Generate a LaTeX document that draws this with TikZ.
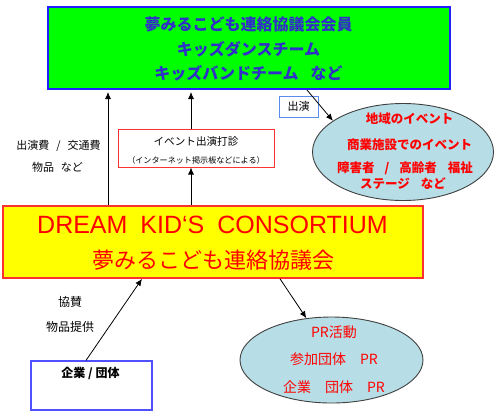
\documentclass[tikz,border=0pt]{standalone}
\usepackage{fontspec}
\setmainfont{Noto Sans CJK JP}
\newfontfamily\latinfont{Liberation Sans}
\usetikzlibrary{arrows.meta,shapes.geometric}
\definecolor{gfill}{HTML}{00FF00}
\definecolor{gborder}{HTML}{2020FF}
\definecolor{gtext}{HTML}{3030C8}
\definecolor{yfill}{HTML}{FFFF00}
\definecolor{rborder}{HTML}{FF3030}
\definecolor{rtext}{HTML}{FF0000}
\definecolor{efill}{HTML}{B7DEE6}
\definecolor{eborder}{HTML}{404040}
\definecolor{bbox}{HTML}{5A8CF0}
\definecolor{cbox}{HTML}{5050FF}
\tikzset{
  boxshape/.style={rectangle, inner sep=0pt},
  ellshape/.style={ellipse, inner sep=0pt, fill=efill, draw=eborder, line width=0.9pt},
  arr/.style={-{Latex[length=7pt,width=6pt]}, line width=0.8pt, black},
  txt/.style={inner sep=0pt, anchor=center}
}
\begin{document}
\begin{tikzpicture}[x=1pt,y=-1pt]
\useasboundingbox (0,0) rectangle (500,416);
\fill[white] (0,0) rectangle (500,416);

% boxes
\node[boxshape, fill=gfill, draw=gborder, line width=2pt, minimum width=402pt, minimum height=82pt] (members) at (248.5,48) {};
\node[boxshape, fill=yfill, draw=rborder, line width=1.6pt, minimum width=420pt, minimum height=72pt] (cons) at (213,242) {};
\node[boxshape, fill=white, draw=rborder, line width=1pt, minimum width=156pt, minimum height=38pt] (event) at (196,148) {};
\node[boxshape, fill=white, draw=bbox, line width=1pt, minimum width=39pt, minimum height=21pt] (perf) at (298.5,106.5) {};
\node[boxshape, fill=white, draw=cbox, line width=1.2pt, minimum width=121pt, minimum height=49pt] (comp) at (91.5,385.5) {};
\node[ellshape, minimum width=181pt, minimum height=97pt] (tell) at (403,152) {};
\node[ellshape, minimum width=183pt, minimum height=86pt] (bell) at (331.5,360) {};

% texts in green box
\begin{scope}[every node/.style={txt, text=gtext, font=\bfseries\fontsize{16}{16}\selectfont}]
\node (m1) at (248.5,24) {夢みるこども連絡協議会会員};
\node (m2) at (248.5,49) {キッズダンスチーム};
\node (m3) at (248.5,73) {キッズバンドチーム\hspace{12pt}など};
\end{scope}

% texts in yellow box
\node[txt, text=rtext, font=\latinfont\fontsize{25}{25}\selectfont] (c1) at (212.5,225) {DREAM\hspace{13pt}KID‘S\hspace{13pt}CONSORTIUM};
\node[txt, text=rtext, font=\fontsize{22}{22}\selectfont] (c2) at (213,260) {夢みるこども連絡協議会};

% event box texts
\node[txt, font=\fontsize{10.6}{11}\selectfont] (e1) at (196,141) {イベント出演打診};
\node[txt, font=\fontsize{8.1}{9}\selectfont] (e2) at (196,160) {（インターネット掲示板などによる）};

% perf label
\node[txt, font=\fontsize{11}{11}\selectfont] (p1) at (298.5,106.5) {出演};

% left labels
\node[txt, font=\fontsize{11}{11}\selectfont] (l1) at (58.5,146) {出演費\hspace{7pt}/\hspace{7pt}交通費};
\node[txt, font=\fontsize{11}{11}\selectfont] (l2) at (57.5,167) {物品\hspace{7pt}など};
\node[txt, font=\fontsize{12}{12}\selectfont] (s1) at (70,302) {協賛};
\node[txt, font=\fontsize{12}{12}\selectfont] (s2) at (70,327) {物品提供};

% company text
\node[txt, font=\bfseries\fontsize{12}{12}\selectfont] (ct) at (90.5,373) {企業 / 団体};

% top ellipse texts
\begin{scope}[every node/.style={txt, text=rtext, font=\bfseries\fontsize{12.5}{12.5}\selectfont}]
\node (t1) at (409.5,119) {地域のイベント};
\node (t2) at (409.5,145) {商業施設でのイベント};
\node (t3) at (405,168) {障害者\hspace{10pt}/\hspace{10pt}高齢者\hspace{11pt}福祉};
\node (t4) at (403,184) {ステージ\hspace{11pt}など};
\end{scope}

% bottom ellipse texts
\begin{scope}[every node/.style={txt, text=rtext, font=\fontsize{14}{14}\selectfont}]
\node (b1) at (334,332) {PR活動};
\node (b2) at (334,359) {参加団体　PR};
\node (b3) at (334,387) {企業　団体　PR};
\end{scope}

% connector coordinates
\coordinate (xa) at (108,0);
\coordinate (xb) at (191,0);
\coordinate (xc) at (307,0);
\coordinate (xd) at (86,0);
\coordinate (xe) at (142,0);
\coordinate (xf) at (280,0);

% connectors
\draw[arr] (xa |- cons.north) -- ([yshift=-2pt]xa |- members.south);
\draw[arr] (xb |- cons.north) -- (xb |- event.south);
\draw[arr] (xb |- event.north) -- ([yshift=-2pt]xb |- members.south);
\draw[arr] (xc |- members.south) -- (tell.156);
\draw[arr] (xd |- comp.north) -- (xe |- cons.south);
\draw[arr] (xf |- cons.south) -- (bell.121);
\end{tikzpicture}
\end{document}
